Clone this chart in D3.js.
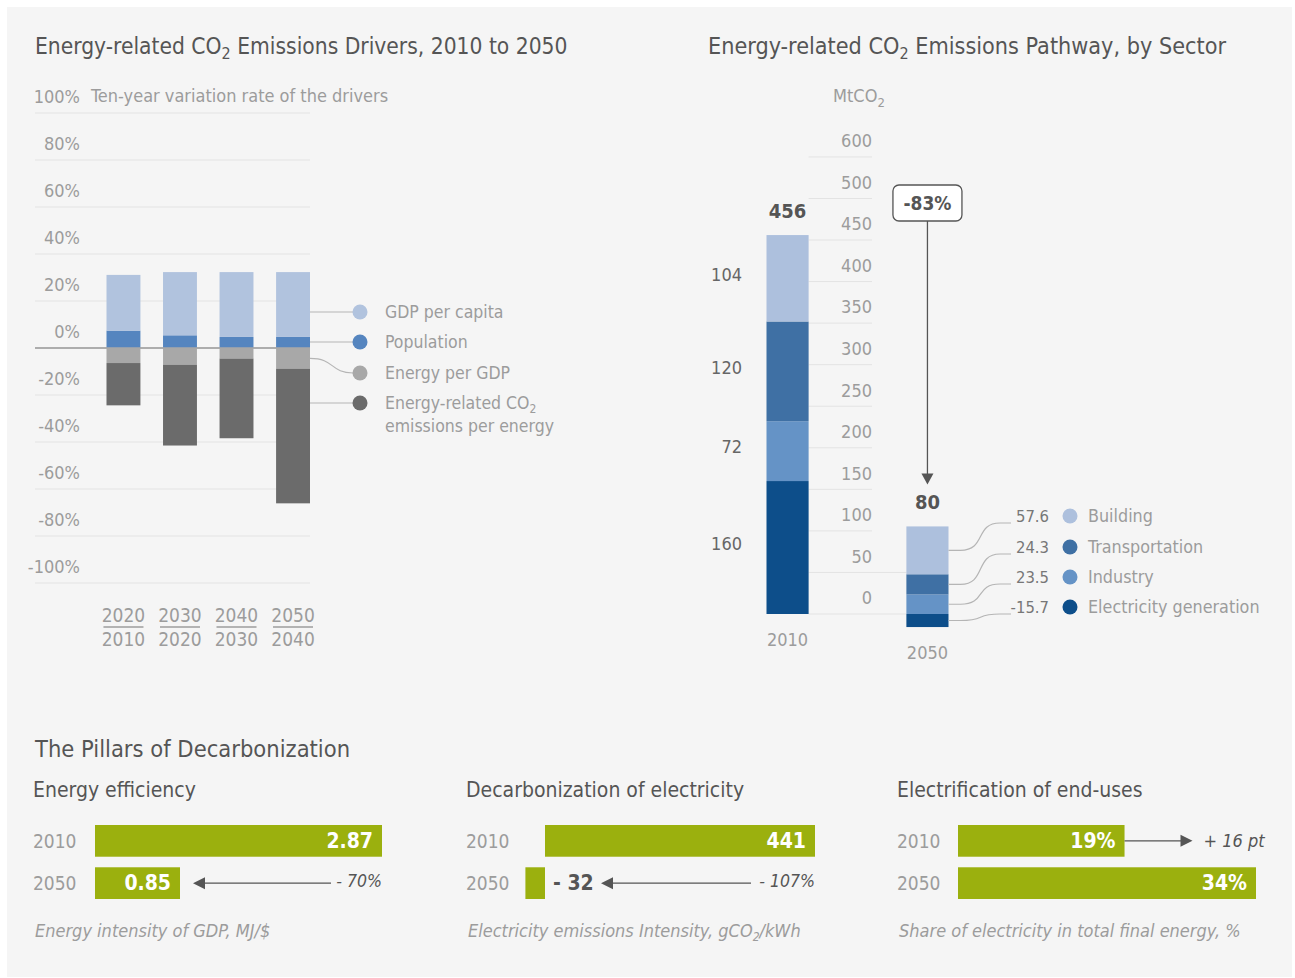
<!DOCTYPE html>
<html>
<head>
<meta charset="utf-8">
<script src="https://cdn.jsdelivr.net/npm/d3@7"></script>
<style>
  html, body { margin: 0; padding: 0; background: #ffffff; }
  svg { display: block; }
  text { font-family: "Liberation Sans Narrow", "DejaVu Sans Condensed", "Roboto", sans-serif; }
</style>
</head>
<body>
<svg id="chart" width="1295" height="978"></svg>
<script>
// ---------------- DATA ----------------
// Left chart: ten-year variation rate of the drivers (%)
const driverPeriods = [["2020", "2010"], ["2030", "2020"], ["2040", "2030"], ["2050", "2040"]];
const driverNames = ["GDP per capita", "Population", "Energy per GDP", "Energy-related CO2 emissions per energy"];
const gdpPerCapita = [23.7, 26.9, 27.6, 27.6];
const population = [7.4, 5.4, 4.7, 4.7];
const energyPerGdp = [-6.4, -7.1, -4.5, -8.8];
const co2PerEnergy = [-18.0, -34.4, -33.9, -57.3];
const driverTicks = [100, 80, 60, 40, 20, 0, -20, -40, -60, -80, -100];

// Right chart: emissions pathway by sector (MtCO2)
const sectorNames = ["Building", "Transportation", "Industry", "Electricity generation"];
const pathwayYears = ["2010", "2050"];
const sector2010 = [104, 120, 72, 160];
const sector2050 = [57.6, 24.3, 23.5, -15.7];
const pathwayTotals = ["456", "80"];
const pathwayChange = "-83%";
const pathwayTickValues = [0, 50, 100, 150, 200, 250, 300, 350, 400, 450, 500, 550];
const pathwayTickLabels = ["0", "50", "100", "150", "200", "250", "300", "350", "400", "450", "500", "600"];

// Bottom: pillars of decarbonization
const pillarTitles = ["Energy efficiency", "Decarbonization of electricity", "Electrification of end-uses"];
const pillarYears = ["2010", "2050"];
const efficiencyValues = [2.87, 0.85];
const efficiencyLabels = ["2.87", "0.85"];
const electricityValues = [441, -32];
const electricityLabels = ["441", "- 32"];
const electrificationValues = [19, 34];
const electrificationLabels = ["19%", "34%"];
const pillarChanges = ["- 70%", "- 107%", "+ 16 pt"];

// ---------------- STYLE ----------------
const C = {
  bg: "#f5f5f5",
  title: "#555555",
  axis: "#9c9c9c",
  grid: "#e3e3e3",
  zero: "#a8a8a8",
  gdp: "#b1c3de",
  pop: "#5585bf",
  epg: "#a8a8a8",
  co2: "#6b6b6b",
  building: "#adc0dd",
  transport: "#3f70a4",
  industry: "#6593c6",
  electricity: "#0d4e8a",
  green: "#9bb00e",
  conn: "#b5b5b5"
};
const driverColors = [C.gdp, C.pop, C.epg, C.co2];
const sectorColors = [C.building, C.transport, C.industry, C.electricity];

const svg = d3.select("#chart");
svg.append("rect").attr("x", 7).attr("y", 7).attr("width", 1285).attr("height", 970).attr("fill", C.bg);

function co2Text(sel, before, after, sub) {
  sel.append("tspan").text(before + "CO");
  sel.append("tspan").attr("dy", sub.dy).attr("font-size", sub.size).text("2");
  sel.append("tspan").attr("dy", -sub.dy).text(after);
}

// ================= LEFT CHART =================
const L = svg.append("g");
L.append("text").attr("x", 35).attr("y", 54).attr("font-size", 22.6).attr("fill", C.title)
  .call(co2Text, "Energy-related ", " Emissions Drivers, 2010 to 2050", {dy: 5, size: 16});

const yL = d3.scaleLinear().domain([-100, 100]).range([583, 113]);
const xL = d3.scaleBand().domain(d3.range(driverPeriods.length)).range([106.5, 310]).paddingInner(0.4).paddingOuter(0);

// grid
L.append("g").selectAll("line").data(driverTicks).join("line")
  .attr("x1", 35).attr("x2", 310)
  .attr("y1", d => yL(d)).attr("y2", d => yL(d))
  .attr("stroke", d => d === 0 ? C.zero : C.grid).attr("stroke-width", d => d === 0 ? 1.3 : 1);

L.append("g").selectAll("text").data(driverTicks).join("text")
  .attr("x", 80).attr("y", d => yL(d) - 16).attr("dy", "0.35em")
  .attr("text-anchor", "end").attr("font-size", 18).attr("fill", C.axis)
  .text(d => d + "%");
L.append("text").attr("x", 91).attr("y", yL(100) - 17).attr("dy", "0.35em")
  .attr("font-size", 18).attr("fill", C.axis).text("Ten-year variation rate of the drivers");

// stacked bars
const driverRows = driverPeriods.map((p, i) => ({i, vals: [gdpPerCapita[i], population[i], energyPerGdp[i], co2PerEnergy[i]]}));
driverRows.forEach(r => {
  const segs = [];
  let pos = 0, neg = 0;
  [1, 0].forEach(k => { segs.push({k, y0: pos, y1: pos + r.vals[k]}); pos += r.vals[k]; });
  [2, 3].forEach(k => { segs.push({k, y0: neg, y1: neg + r.vals[k]}); neg += r.vals[k]; });
  r.segs = segs;
});
const barsL = L.append("g");
driverRows.forEach(r => {
  barsL.selectAll(null).data(r.segs).join("rect")
    .attr("x", xL(r.i)).attr("width", xL.bandwidth())
    .attr("y", d => yL(Math.max(d.y0, d.y1)))
    .attr("height", d => Math.abs(yL(d.y0) - yL(d.y1)))
    .attr("fill", d => driverColors[d.k]);
});
L.append("line").attr("x1", 35).attr("x2", 310).attr("y1", yL(0)).attr("y2", yL(0))
  .attr("stroke", C.zero).attr("stroke-width", 1.3);

// x labels (fractions)
const xLab = L.append("g");
driverPeriods.forEach((p, i) => {
  const cx = xL(i) + xL.bandwidth() / 2;
  xLab.append("text").attr("x", cx).attr("y", 615).attr("dy", "0.35em").attr("text-anchor", "middle")
    .attr("font-size", 19).attr("fill", C.axis).text(p[0]);
  xLab.append("line").attr("x1", cx - 20).attr("x2", cx + 20).attr("y1", 627).attr("y2", 627)
    .attr("stroke", C.axis).attr("stroke-width", 1.5);
  xLab.append("text").attr("x", cx).attr("y", 639).attr("dy", "0.35em").attr("text-anchor", "middle")
    .attr("font-size", 19).attr("fill", C.axis).text(p[1]);
});

// legend
const legLY = [312, 342, 373, 403];
const lastBarRight = xL(driverPeriods.length - 1) + xL.bandwidth();
const last = driverRows[driverRows.length - 1];
const epgSeg = last.segs.find(s => s.k === 2);
const epgMid = yL((epgSeg.y0 + epgSeg.y1) / 2);
const legL = L.append("g");
driverNames.forEach((n, k) => {
  const y = legLY[k];
  const y0 = k === 2 ? epgMid : y;
  legL.append("path")
    .attr("d", `M${lastBarRight},${y0} C${lastBarRight + 25},${y0} ${lastBarRight + 20},${y} ${353},${y}`)
    .attr("fill", "none").attr("stroke", C.conn).attr("stroke-width", 1.2);
  legL.append("circle").attr("cx", 360).attr("cy", y).attr("r", 7.5).attr("fill", driverColors[k]);
});
["GDP per capita", "Population", "Energy per GDP"].forEach((n, k) => {
  legL.append("text").attr("x", 385).attr("y", legLY[k]).attr("dy", "0.35em")
    .attr("font-size", 17.5).attr("fill", C.axis).text(n);
});
legL.append("text").attr("x", 385).attr("y", legLY[3]).attr("dy", "0.35em")
  .attr("font-size", 17.5).attr("fill", C.axis).call(co2Text, "Energy-related ", "", {dy: 4, size: 12});
legL.append("text").attr("x", 385).attr("y", legLY[3] + 23).attr("dy", "0.35em")
  .attr("font-size", 17.5).attr("fill", C.axis).text("emissions per energy");

// ================= RIGHT CHART =================
const R = svg.append("g");
R.append("text").attr("x", 708).attr("y", 54).attr("font-size", 23.2).attr("fill", C.title)
  .call(co2Text, "Energy-related ", " Emissions Pathway, by Sector", {dy: 5, size: 16});

const yR = d3.scaleLinear().domain([0, 550]).range([614, 614 - 550 * 0.831]);
const xR = d3.scaleBand().domain(pathwayYears).range([766.5, 948.5]).paddingInner(0.699).paddingOuter(0);

R.append("text").attr("x", 833).attr("y", 96).attr("dy", "0.35em").attr("font-size", 18).attr("fill", C.axis)
  .call(sel => { sel.append("tspan").text("MtCO"); sel.append("tspan").attr("dy", 5).attr("font-size", 13).text("2"); });

R.append("g").selectAll("line").data(pathwayTickValues).join("line")
  .attr("x1", xR("2010") + xR.bandwidth()).attr("x2", d => d <= 50 ? xR("2050") : 872)
  .attr("y1", d => yR(d)).attr("y2", d => yR(d))
  .attr("stroke", C.grid).attr("stroke-width", 1);
R.append("g").selectAll("text").data(pathwayTickValues).join("text")
  .attr("x", 872).attr("y", d => yR(d) - 16).attr("dy", "0.35em")
  .attr("text-anchor", "end").attr("font-size", 18).attr("fill", C.axis)
  .text((d, i) => pathwayTickLabels[i]);

function stackSectors(vals) {
  const order = [3, 2, 1, 0];
  let pos = 0, neg = 0;
  return order.map(k => {
    const v = vals[k];
    let s;
    if (v >= 0) { s = {k, y0: pos, y1: pos + v}; pos += v; }
    else { s = {k, y0: neg, y1: neg + v}; neg += v; }
    return s;
  });
}
const pathStacks = [stackSectors(sector2010), stackSectors(sector2050)];
pathwayYears.forEach((yr, j) => {
  R.append("g").selectAll("rect").data(pathStacks[j]).join("rect")
    .attr("x", xR(yr)).attr("width", xR.bandwidth())
    .attr("y", d => yR(Math.max(d.y0, d.y1)))
    .attr("height", d => Math.abs(yR(d.y0) - yR(d.y1)))
    .attr("fill", d => sectorColors[d.k]);
  const top = d3.max(pathStacks[j], d => Math.max(d.y0, d.y1));
  const bottom = d3.min(pathStacks[j], d => Math.min(d.y0, d.y1));
  R.append("text").attr("x", xR(yr) + xR.bandwidth() / 2).attr("y", yR(top) - 24).attr("dy", "0.35em")
    .attr("text-anchor", "middle").attr("font-size", 20).attr("font-weight", "bold").attr("fill", C.title)
    .text(pathwayTotals[j]);
  R.append("text").attr("x", xR(yr) + xR.bandwidth() / 2).attr("y", yR(bottom) + 26).attr("dy", "0.35em")
    .attr("text-anchor", "middle").attr("font-size", 18).attr("fill", C.axis).text(yr);
});
R.append("g").selectAll("text").data(pathStacks[0]).join("text")
  .attr("x", 742).attr("y", d => yR((d.y0 + d.y1) / 2) - 4).attr("dy", "0.35em")
  .attr("text-anchor", "end").attr("font-size", 18).attr("fill", "#666")
  .text(d => sector2010[d.k]);

// change annotation
const cx50 = xR("2050") + xR.bandwidth() / 2;
const top50 = d3.max(pathStacks[1], d => Math.max(d.y0, d.y1));
const tipY = yR(top50) - 42;
R.append("line").attr("x1", cx50).attr("x2", cx50).attr("y1", 221).attr("y2", tipY - 8)
  .attr("stroke", "#555").attr("stroke-width", 1.3);
R.append("path").attr("d", `M${cx50 - 6},${tipY - 11} L${cx50 + 6},${tipY - 11} L${cx50},${tipY} Z`).attr("fill", "#555");
R.append("rect").attr("x", cx50 - 34.5).attr("y", 185).attr("width", 69).attr("height", 36).attr("rx", 6)
  .attr("fill", "#fff").attr("stroke", "#555").attr("stroke-width", 1.3);
R.append("text").attr("x", cx50).attr("y", 203).attr("dy", "0.35em").attr("text-anchor", "middle")
  .attr("font-size", 19).attr("font-weight", "bold").attr("fill", C.title).text(pathwayChange);

// right legend
const legRY = [516, 547, 577, 607];
const bar50Right = xR("2050") + xR.bandwidth();
sectorNames.forEach((n, k) => {
  const seg = pathStacks[1].find(s => s.k === k);
  const y0 = yR((seg.y0 + seg.y1) / 2);
  const y1 = legRY[k] + 7;
  R.append("path")
    .attr("d", `M${bar50Right},${y0} L${bar50Right + 12},${y0} C${bar50Right + 38},${y0} ${bar50Right + 26},${y1} ${1000},${y1} L1011,${y1}`)
    .attr("fill", "none").attr("stroke", C.conn).attr("stroke-width", 1.2);
  R.append("text").attr("x", 1049).attr("y", legRY[k]).attr("dy", "0.35em").attr("text-anchor", "end")
    .attr("font-size", 16.5).attr("fill", "#777").text(sector2050[k]);
  R.append("circle").attr("cx", 1070).attr("cy", legRY[k]).attr("r", 7.5).attr("fill", sectorColors[k]);
  R.append("text").attr("x", 1088).attr("y", legRY[k]).attr("dy", "0.35em")
    .attr("font-size", 17.8).attr("fill", C.axis).text(n);
});

// ================= BOTTOM: PILLARS =================
const B = svg.append("g");
B.append("text").attr("x", 35).attr("y", 757).attr("font-size", 23.5).attr("fill", C.title).text("The Pillars of Decarbonization");

const yB = d3.scaleBand().domain(pillarYears).range([825, 899]).paddingInner(0.25).paddingOuter(0);
const panels = [
  {x0: 33, title: pillarTitles[0], vals: efficiencyValues, labels: efficiencyLabels,
   scale: d3.scaleLinear().domain([0, 2.87]).range([95, 382]), change: pillarChanges[0],
   caption: [{t: "Energy intensity of GDP, MJ/$"}]},
  {x0: 466, title: pillarTitles[1], vals: electricityValues, labels: electricityLabels,
   scale: d3.scaleLinear().domain([0, 441]).range([545, 815]), change: pillarChanges[1],
   caption: [{t: "Electricity emissions Intensity, gCO"}, {t: "2", sub: true}, {t: "/kWh"}]},
  {x0: 897, title: pillarTitles[2], vals: electrificationValues, labels: electrificationLabels,
   scale: d3.scaleLinear().domain([0, 34]).range([958, 1256]), change: pillarChanges[2],
   caption: [{t: "Share of electricity in total final energy, %"}]}
];
const arrowHead = (x, y, dir) => `M${x},${y} L${x - dir * 12},${y - 6} L${x - dir * 12},${y + 6} Z`;

panels.forEach((p, pi) => {
  const g = B.append("g");
  g.append("text").attr("x", p.x0).attr("y", 790).attr("dy", "0.35em").attr("font-size", 21).attr("fill", C.title).text(p.title);
  pillarYears.forEach((yr, j) => {
    const v = p.vals[j];
    const yc = yB(yr) + yB.bandwidth() / 2;
    g.append("text").attr("x", p.x0).attr("y", yc).attr("dy", "0.35em").attr("font-size", 19).attr("fill", C.axis).text(yr);
    g.append("rect").attr("x", Math.min(p.scale(0), p.scale(v))).attr("width", Math.abs(p.scale(v) - p.scale(0)))
      .attr("y", yB(yr)).attr("height", yB.bandwidth()).attr("fill", C.green);
    if (v >= 0) {
      g.append("text").attr("x", p.scale(v) - 9).attr("y", yc).attr("dy", "0.35em").attr("text-anchor", "end")
        .attr("font-size", 21).attr("font-weight", "bold").attr("fill", "#fff").text(p.labels[j]);
    } else {
      g.append("text").attr("x", p.scale(0) + 8).attr("y", yc).attr("dy", "0.35em")
        .attr("font-size", 21).attr("font-weight", "bold").attr("fill", C.title).text(p.labels[j]);
    }
  });
  const y10 = yB("2010") + yB.bandwidth() / 2;
  const y50 = yB("2050") + yB.bandwidth() / 2;
  if (pi < 2) {
    const right = p.scale(p.vals[0]);
    const tip = pi === 0 ? p.scale(p.vals[1]) + 13 : p.scale(0) + 56;
    const start = pi === 0 ? right - 51 : right - 64;
    g.append("line").attr("x1", start).attr("x2", tip + 8).attr("y1", y50).attr("y2", y50).attr("stroke", "#555").attr("stroke-width", 1.3);
    g.append("path").attr("d", arrowHead(tip, y50, -1)).attr("fill", "#555");
    g.append("text").attr("x", right).attr("y", y50 - 2).attr("dy", "0.35em").attr("text-anchor", "end")
      .attr("font-size", 17.5).attr("font-style", "italic").attr("fill", C.title).text(p.change);
  } else {
    const start = p.scale(p.vals[0]);
    const tip = start + 68;
    g.append("line").attr("x1", start).attr("x2", tip - 8).attr("y1", y10).attr("y2", y10).attr("stroke", "#555").attr("stroke-width", 1.3);
    g.append("path").attr("d", arrowHead(tip, y10, 1)).attr("fill", "#555");
    g.append("text").attr("x", tip + 11).attr("y", y10).attr("dy", "0.35em")
      .attr("font-size", 18).attr("font-style", "italic").attr("fill", C.title).text(p.change);
  }
  const cap = g.append("text").attr("x", p.x0 + 2).attr("y", 937)
    .attr("font-size", 18).attr("font-style", "italic").attr("fill", C.axis);
  let shifted = 0;
  p.caption.forEach(c => {
    if (c.sub) { cap.append("tspan").attr("dy", 4).attr("font-size", 12).text(c.t); shifted = 4; }
    else { const t = cap.append("tspan").text(c.t); if (shifted) { t.attr("dy", -shifted); shifted = 0; } }
  });
});
</script>
</body>
</html>
